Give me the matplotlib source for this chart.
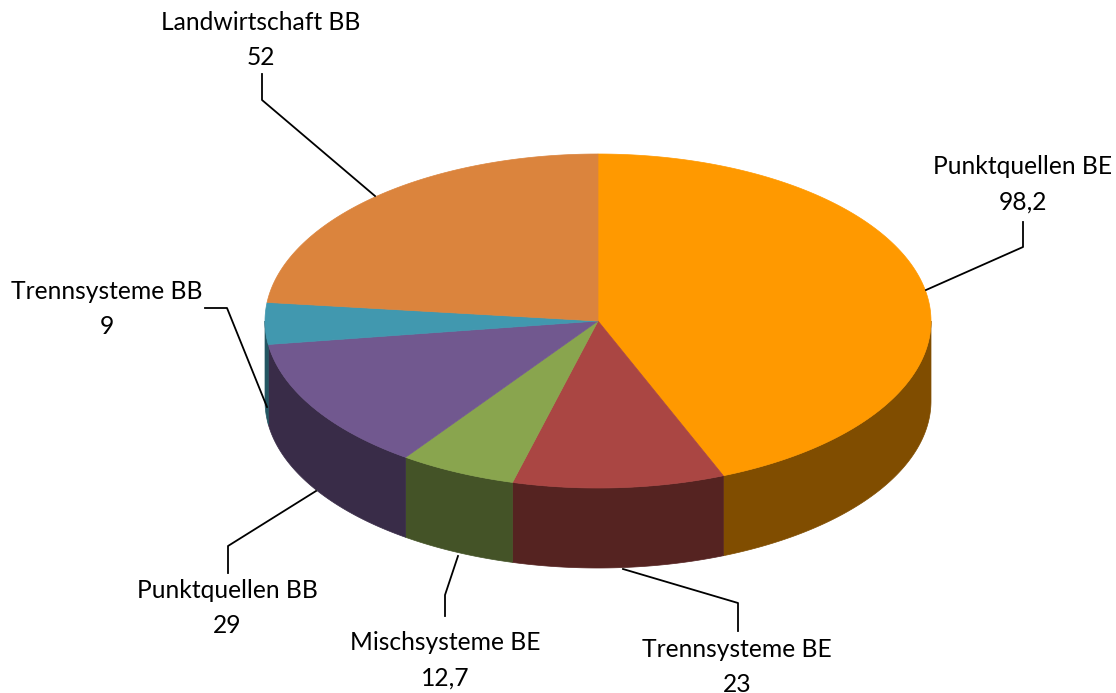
import numpy as np
import matplotlib
matplotlib.use("Agg")
import matplotlib.pyplot as plt

plt.rcParams['font.family'] = ['Lato', 'DejaVu Sans']

names = ['Punktquellen BE', 'Trennsysteme BE', 'Mischsysteme BE',
         'Punktquellen BB', 'Trennsysteme BB', 'Landwirtschaft BB']
labels = ['98,2', '23', '12,7', '29', '9', '52']
values = [98.2, 23, 12.7, 29, 9, 52]
top_colors = ['#FF9900', '#AA4643', '#89A54E', '#71588F', '#4198AF', '#DB843D']
side_colors = ['#804D00', '#552321', '#445327', '#392C48', '#235662', '#6E421F']

# label text centres and leader lines, in pixels of the picture
label_pos = [(1023, 184), (737, 667), (445, 660), (227, 608), (107, 309), (261, 40)]
leaders = [
    [(1023, 222), (1023, 247), (926, 290)],
    [(738, 631), (738, 603), (623, 569)],
    [(445, 616), (445, 595), (458, 556)],
    [(228, 573), (228, 546), (316, 491)],
    [(205, 308), (227, 308), (267, 407)],
    [(262, 74), (262, 100), (375, 196)],
]

cx, cy = 598, 321
rx, ry = 333, 167
depth = 80

fig = plt.figure(figsize=(11.16, 6.93), dpi=100)
ax = fig.add_axes([0, 0, 1, 1])
ax.set_xlim(0, 1116)
ax.set_ylim(693, 0)
ax.axis('off')


def rim(a, b, n=200):
    t = np.radians(np.linspace(a, b, n))
    return cx + rx * np.sin(t), cy - ry * np.cos(t)


edges = np.concatenate([[0], np.cumsum(values)]) / sum(values) * 360

# walls of the cake, only the front half is visible
for i in range(len(values)):
    a = max(edges[i], 90)
    b = min(edges[i + 1], 270)
    if b <= a:
        continue
    x, y = rim(a, b)
    ax.fill(np.r_[x, x[::-1]], np.r_[y, y[::-1] + depth], color=side_colors[i], lw=0.5, zorder=2)

# top of the cake
for i in range(len(values)):
    x, y = rim(edges[i], edges[i + 1])
    ax.fill(np.r_[cx, x], np.r_[cy, y], color=top_colors[i], lw=0.5, zorder=3)

for pts in leaders:
    px, py = zip(*pts)
    ax.plot(px, py, color='black', lw=1.3, zorder=4)

for name, lab, (tx, ty) in zip(names, labels, label_pos):
    ax.text(tx, ty, name + '\n' + lab, ha='center', va='center', fontsize=17.7, color='black',
            linespacing=1.66, zorder=5)

fig.savefig('out.png', dpi=100)
